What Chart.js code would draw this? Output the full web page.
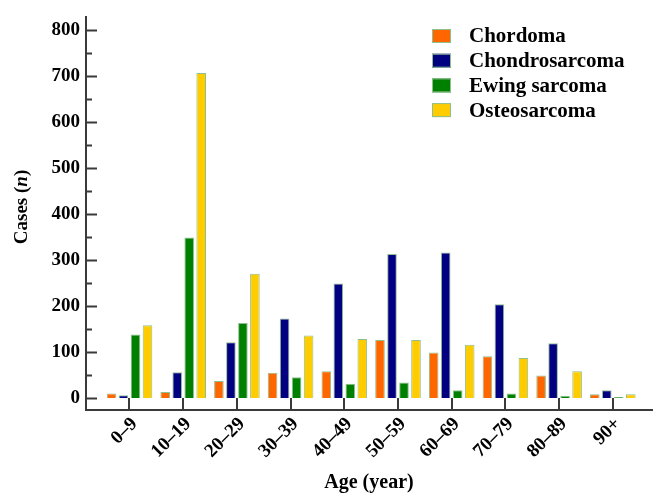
<!DOCTYPE html>
<html>
<head>
<meta charset="utf-8">
<script src="https://cdn.jsdelivr.net/npm/chart.js@4"></script>
<style>
  html, body { margin: 0; padding: 0; background: #fff; }
  #wrap { width: 655px; height: 493px; }
</style>
</head>
<body>
<div id="wrap"><canvas id="bar-chart"></canvas></div>
<script>
var ages = ["0–9", "10–19", "20–29", "30–39", "40–49", "50–59", "60–69", "70–79", "80–89", "90+"];
var chordoma = [11, 14, 38, 56, 59, 127, 100, 92, 50, 9];
var chondrosarcoma = [7, 57, 122, 174, 250, 314, 317, 205, 120, 18];
var ewing = [139, 350, 164, 46, 32, 35, 18, 11, 6, 3];
var osteosarcoma = [159, 707, 271, 137, 129, 127, 117, 88, 59, 9];
var yTicks = [0, 100, 200, 300, 400, 500, 600, 700, 800];

var serif = '"Liberation Serif", "Times New Roman", serif';
var edge = "#8fbf8f";

function points(arr) {
  return arr.map(function (v, i) { return { x: i, y: v }; });
}

// inward tick marks, legend box and y title with italic n
var extras = {
  id: 'extras',
  afterDraw: function (chart) {
    var ctx = chart.ctx, x = chart.scales.x, y = chart.scales.y;
    var left = chart.chartArea.left, bottom = chart.chartArea.bottom;
    ctx.save();
    ctx.strokeStyle = "#3a3a3a";
    ctx.lineWidth = 2;
    ctx.beginPath();
    for (var v = 0; v <= 800; v += 50) {
      var py = Math.round(y.getPixelForValue(v)) + 0.5;
      ctx.moveTo(left, py);
      ctx.lineTo(left + (v % 100 === 0 ? 11 : 6), py);
    }
    for (var i = 0; i < ages.length; i++) {
      var px = Math.round(x.getPixelForValue(i));
      ctx.moveTo(px, bottom);
      ctx.lineTo(px, bottom - 12);
    }
    ctx.stroke();

    // legend
    ctx.font = "bold 21px " + serif;
    ctx.textBaseline = "middle";
    ctx.textAlign = "left";
    chart.data.datasets.forEach(function (ds, k) {
      var cy = 36 + k * 24.7;
      ctx.fillStyle = ds.backgroundColor;
      ctx.fillRect(432, cy - 7, 19, 14);
      ctx.lineWidth = 1;
      ctx.strokeStyle = edge;
      ctx.strokeRect(432.5, cy - 6.5, 18, 13);
      ctx.fillStyle = "#000";
      ctx.fillText(ds.label, 469, cy + 1);
    });

    // y title: Cases (n)
    ctx.translate(22, 207);
    ctx.rotate(-Math.PI / 2);
    var a = "Cases (", b = "n", c = ")";
    var fb = "bold 19px " + serif, fi = "italic bold 19px " + serif;
    ctx.font = fb; var wa = ctx.measureText(a).width, wc = ctx.measureText(c).width;
    ctx.font = fi; var wb = ctx.measureText(b).width;
    var sx = -(wa + wb + wc) / 2;
    ctx.fillStyle = "#000";
    ctx.font = fb; ctx.fillText(a, sx, 0);
    ctx.font = fi; ctx.fillText(b, sx + wa, 0);
    ctx.font = fb; ctx.fillText(c, sx + wa + wb, 0);
    ctx.restore();
  }
};

new Chart(document.getElementById("bar-chart"), {
  type: 'bar',
  data: {
    datasets: [
      { label: "Chordoma", data: points(chordoma), backgroundColor: "#ff6600" },
      { label: "Chondrosarcoma", data: points(chondrosarcoma), backgroundColor: "#000080" },
      { label: "Ewing sarcoma", data: points(ewing), backgroundColor: "#008000" },
      { label: "Osteosarcoma", data: points(osteosarcoma), backgroundColor: "#ffcc00" }
    ]
  },
  options: {
    responsive: true,
    maintainAspectRatio: false,
    animation: false,
    layout: { padding: { top: 13, right: 3, left: 0, bottom: 0 } },
    datasets: {
      bar: {
        borderColor: edge,
        borderWidth: 1,
        categoryPercentage: 0.894,
        barPercentage: 0.8
      }
    },
    plugins: {
      legend: { display: false },
      tooltip: { enabled: false }
    },
    scales: {
      x: {
        type: 'linear',
        offset: false,
        min: -0.81,
        max: 9.73,
        grid: { display: true, drawOnChartArea: false, drawTicks: false, offset: false },
        border: { display: true, color: "#3a3a3a", width: 2 },
        afterFit: function (s) { s.height = 83; },
        afterBuildTicks: function (s) {
          s.ticks = ages.map(function (a, i) { return { value: i }; });
        },
        ticks: {
          autoSkip: false,
          minRotation: 45,
          maxRotation: 45,
          padding: 3,
          labelOffset: 5,
          color: "#000",
          font: { family: serif, size: 19, weight: "bold" },
          callback: function (v) { return ages[v]; }
        },
        title: {
          display: true,
          text: "Age (year)",
          color: "#000",
          font: { family: serif, size: 20, weight: "bold", lineHeight: 1 },
          padding: { top: 0, bottom: 0 }
        }
      },
      y: {
        min: -25,
        max: 828,
        grid: { display: true, drawOnChartArea: false, drawTicks: false },
        border: { display: true, color: "#3a3a3a", width: 2 },
        afterFit: function (s) { s.width = 86; },
        afterBuildTicks: function (s) {
          s.ticks = yTicks.map(function (v) { return { value: v }; });
        },
        ticks: {
          padding: 6,
          color: "#000",
          font: { family: serif, size: 19, weight: "bold" }
        }
      }
    }
  },
  plugins: [extras]
});
</script>
</body>
</html>
